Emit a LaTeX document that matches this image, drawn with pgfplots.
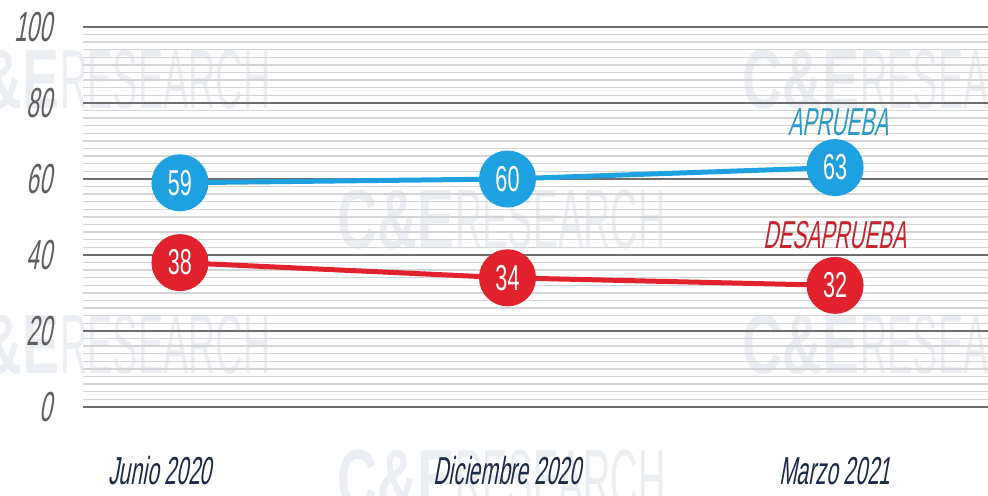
\documentclass[border=0pt]{standalone}
\usepackage{pgfplots}
\pgfplotsset{compat=1.18}
\usepackage{fontspec}
\setmainfont{Liberation Sans}
\newfontfamily\condit[FakeStretch=0.54,FakeSlant=0.18]{Liberation Sans}
\newfontfamily\condup[FakeStretch=0.6]{Liberation Sans}
\newfontfamily\wmbold[FakeStretch=0.66]{Liberation Sans}
\newfontfamily\wmcond[FakeStretch=0.45]{Liberation Sans}
\definecolor{cblue}{RGB}{29,161,224}
\definecolor{cred}{RGB}{225,33,43}
\definecolor{lblue}{RGB}{46,154,196}
\definecolor{lred}{RGB}{196,37,47}
\definecolor{navy}{RGB}{27,42,71}
\definecolor{ylab}{RGB}{95,95,95}
\definecolor{gridmaj}{RGB}{110,110,110}
\definecolor{gridmin}{RGB}{212,212,212}
\definecolor{wm}{RGB}{234,237,242}
\newcommand\wm[2]{%
  \node[anchor=east,text=wm,inner sep=0pt] at (#1,#2) {\wmbold\fontsize{42}{42}\selectfont\bfseries C\&E};
  \node[anchor=west,text=wm,inner sep=0pt] at (#1,#2) {\wmcond\fontsize{42}{42}\selectfont RESEARCH};}
\begin{document}
\begin{tikzpicture}
\useasboundingbox (0,0) rectangle (494pt,248pt);
\clip (0,0) rectangle (494pt,248pt);
\wm{30pt}{208pt}
\wm{430pt}{208pt}
\wm{227.5pt}{138pt}
\wm{30pt}{75.5pt}
\wm{430pt}{75.5pt}
\wm{227.5pt}{8pt}
\begin{axis}[
  at={(41.5pt,44.5pt)}, anchor=south west,
  scale only axis, width=452.5pt, height=190pt,
  xmin=-0.296, xmax=2.467, ymin=0, ymax=100,
  axis line style={draw=none},
  major tick length=0pt, minor tick length=0pt,
  ytick={0,20,40,60,80,100},
  yticklabels={0,20,40,60,80,100},
  minor y tick num=9,
  ymajorgrids, yminorgrids,
  major grid style={color=gridmaj, line width=1pt},
  minor grid style={color=gridmin, line width=0.7pt},
  xtick={0,1,2},
  xticklabels={{\hspace*{-20pt}Junio 2020}, Diciembre 2020, Marzo 2021},
  yticklabel style={font=\condit\fontsize{21}{21}\selectfont, text=ylab, anchor=east, xshift=-12pt},
  xticklabel style={font=\condit\fontsize{19.5}{19.5}\selectfont, text=navy, anchor=center, yshift=-32pt},
  clip=false,
]
\addplot[cblue, line width=2.5pt, mark=*, mark size=13pt,
  mark options={fill=cblue, draw=none},
  nodes near coords, point meta=explicit symbolic,
  every node near coord/.style={anchor=center, text=white, font=\condup\fontsize{18}{18}\selectfont}]
  coordinates {(0,59)[59] (1,60)[60] (2,63)[63]};
\addplot[cred, line width=2.5pt, mark=*, mark size=13pt,
  mark options={fill=cred, draw=none},
  nodes near coords, point meta=explicit symbolic,
  every node near coord/.style={anchor=center, text=white, font=\condup\fontsize{18}{18}\selectfont}]
  coordinates {(0,38)[38] (1,34)[34] (2,32)[32]};
\node[text=lblue, font=\condit\fontsize{19.5}{19.5}\selectfont] at (axis cs:2.01,75) {APRUEBA};
\node[text=lred, font=\condit\fontsize{19.5}{19.5}\selectfont] at (axis cs:2.0,45.3) {DESAPRUEBA};
\end{axis}
\end{tikzpicture}
\end{document}
